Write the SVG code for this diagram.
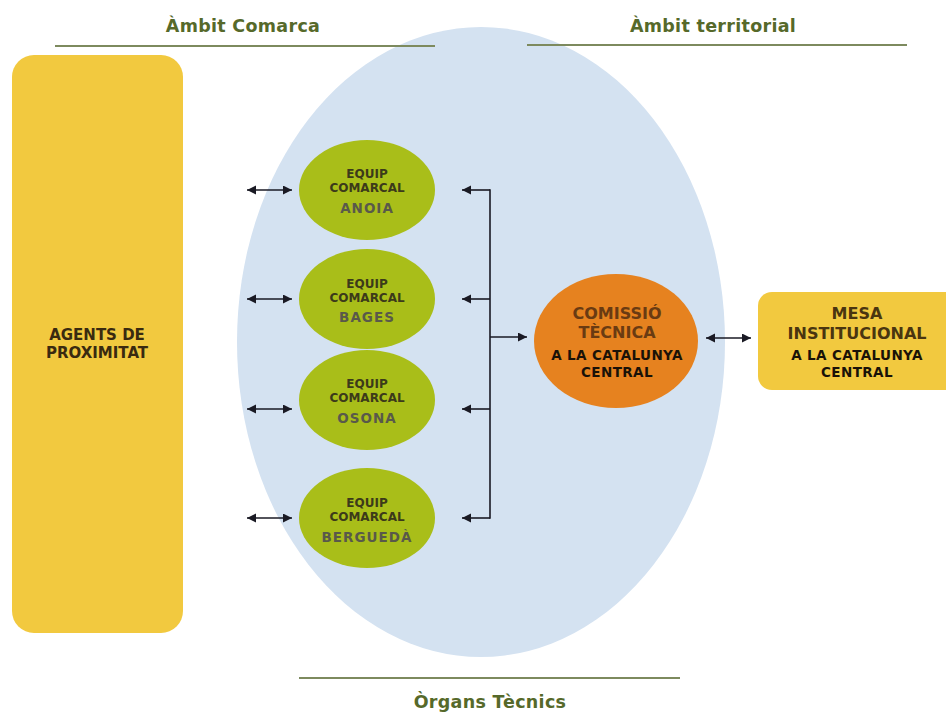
<svg xmlns="http://www.w3.org/2000/svg" width="946" height="713" viewBox="0 0 946 713">
<defs>
<style>
.hdr{font-family:"DejaVu Sans","Verdana",sans-serif;font-weight:bold;font-size:17.5px;fill:#56692a;text-anchor:middle;letter-spacing:0.3px}
.hline{stroke:#7d8a5e;stroke-width:2}
.yel{fill:#f2c93f}
.grn{fill:#a9be19}
.t{font-family:"DejaVu Sans","Verdana",sans-serif;font-weight:bold;text-anchor:middle}
.eq{font-size:12px;fill:#3c3a1a}
.reg{font-size:13.5px;fill:#59594a;letter-spacing:1px}
.big{font-size:16px}
.sub{font-size:13.5px;fill:#1a1208;letter-spacing:0.4px}
.con{stroke:#1a1a24;stroke-width:1.6;fill:none}
</style>
<marker id="ah" markerUnits="userSpaceOnUse" markerWidth="10" markerHeight="10" refX="9" refY="4.5" orient="auto-start-reverse" viewBox="0 0 10 10">
<path d="M0,0 L9,4.5 L0,9 z" fill="#1a1a24"/>
</marker>
</defs>
<rect width="946" height="713" fill="#ffffff"/>
<ellipse cx="481" cy="342" rx="244" ry="315" fill="#d4e2f1"/>
<g id="headers">
<text class="hdr" x="243" y="32">Àmbit Comarca</text>
<line class="hline" x1="55" y1="46" x2="435" y2="46"/>
<text class="hdr" x="713" y="32">Àmbit territorial</text>
<line class="hline" x1="527" y1="45" x2="907" y2="45"/>
<line class="hline" x1="299" y1="678" x2="680" y2="678"/>
<text class="hdr" x="490" y="708">Òrgans Tècnics</text>
</g>
<g id="agents">
<rect class="yel" x="12" y="55" width="171" height="578" rx="22"/>
<text class="t" x="97" y="340" font-size="15" fill="#3a2a10">AGENTS DE</text>
<text class="t" x="97" y="358" font-size="15" fill="#3a2a10">PROXIMITAT</text>
</g>
<g id="anoia">
<ellipse class="grn" cx="367" cy="190" rx="68" ry="50"/>
<text class="t eq" x="367" y="177.5">EQUIP</text>
<text class="t eq" x="367" y="191.5">COMARCAL</text>
<text class="t reg" x="367" y="213">ANOIA</text>
</g>
<g id="bages">
<ellipse class="grn" cx="367" cy="299" rx="68" ry="50"/>
<text class="t eq" x="367" y="287.5">EQUIP</text>
<text class="t eq" x="367" y="301.5">COMARCAL</text>
<text class="t reg" x="367" y="322">BAGES</text>
</g>
<g id="osona">
<ellipse class="grn" cx="367" cy="400" rx="68" ry="50"/>
<text class="t eq" x="367" y="387.5">EQUIP</text>
<text class="t eq" x="367" y="401.5">COMARCAL</text>
<text class="t reg" x="367" y="423">OSONA</text>
</g>
<g id="bergueda">
<ellipse class="grn" cx="367" cy="518" rx="68" ry="50"/>
<text class="t eq" x="367" y="506.5">EQUIP</text>
<text class="t eq" x="367" y="520.5">COMARCAL</text>
<text class="t reg" x="367" y="542">BERGUEDÀ</text>
</g>
<g id="comissio">
<ellipse cx="616" cy="341" rx="82" ry="67" fill="#e6821f"/>
<text class="t big" x="617" y="318.5" fill="#6a3b12">COMISSIÓ</text>
<text class="t big" x="617" y="337.5" fill="#6a3b12">TÈCNICA</text>
<text class="t sub" x="617" y="360">A LA CATALUNYA</text>
<text class="t sub" x="617" y="377">CENTRAL</text>
</g>
<g id="mesa">
<rect class="yel" x="758" y="292" width="210" height="98" rx="14"/>
<text class="t big" x="857" y="318.5" fill="#4a3510">MESA</text>
<text class="t big" x="857" y="338.5" fill="#4a3510">INSTITUCIONAL</text>
<text class="t sub" x="857" y="360">A LA CATALUNYA</text>
<text class="t sub" x="857" y="376.5">CENTRAL</text>
</g>
<g id="connectors">
<line class="con" x1="247" y1="190" x2="292" y2="190" marker-start="url(#ah)" marker-end="url(#ah)"/>
<line class="con" x1="247" y1="299" x2="292" y2="299" marker-start="url(#ah)" marker-end="url(#ah)"/>
<line class="con" x1="247" y1="409" x2="292" y2="409" marker-start="url(#ah)" marker-end="url(#ah)"/>
<line class="con" x1="247" y1="518" x2="292" y2="518" marker-start="url(#ah)" marker-end="url(#ah)"/>
<line class="con" x1="490" y1="189.2" x2="490" y2="518.8"/>
<line class="con" x1="490" y1="190" x2="462" y2="190" marker-end="url(#ah)"/>
<line class="con" x1="490" y1="299" x2="462" y2="299" marker-end="url(#ah)"/>
<line class="con" x1="490" y1="409" x2="462" y2="409" marker-end="url(#ah)"/>
<line class="con" x1="490" y1="518" x2="462" y2="518" marker-end="url(#ah)"/>
<line class="con" x1="490" y1="337" x2="527" y2="337" marker-end="url(#ah)"/>
<line class="con" x1="706" y1="338" x2="751" y2="338" marker-start="url(#ah)" marker-end="url(#ah)"/>
</g>
</svg>
